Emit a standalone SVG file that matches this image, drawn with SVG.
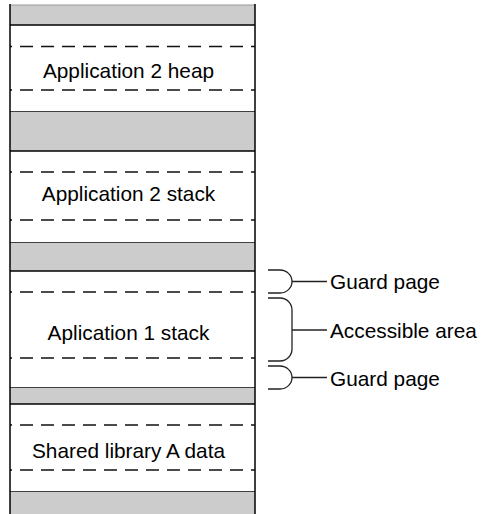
<svg xmlns="http://www.w3.org/2000/svg" width="482" height="514" viewBox="0 0 482 514">
<style>
.gray{fill:#cccccc;stroke:none}
.white{fill:#ffffff;stroke:none}
.border{stroke:#000;stroke-width:1.5;fill:none}
.dash{stroke:#111;stroke-width:1.3;stroke-dasharray:13 8;stroke-dashoffset:11;fill:none}
.lbl{font-family:"Liberation Sans",Arial,sans-serif;font-size:20.8px;fill:#000}
.brace{stroke:#222;stroke-width:1.3;fill:none}
</style>
<rect width="482" height="514" fill="#ffffff"/>
<g id="gap1"><rect class="gray" x="10" y="5" width="245" height="20"/><line x1="10" y1="5" x2="255" y2="5" stroke="#999" stroke-width="1"/></g>
<g id="app2heap">
<rect class="white" x="10" y="25" width="245" height="87"/>
<line class="border" x1="10" y1="25" x2="255" y2="25"/>
<line class="border" x1="10" y1="112" x2="255" y2="112"/>
<line class="dash" x1="10" y1="46.5" x2="255" y2="46.5"/>
<line class="dash" x1="10" y1="90" x2="255" y2="90"/>
<text class="lbl" x="128.5" y="77.5" text-anchor="middle">Application 2 heap</text>
</g>
<g id="gap2"><rect class="gray" x="10" y="112" width="245" height="39"/></g>
<g id="app2stack">
<rect class="white" x="10" y="151" width="245" height="92"/>
<line class="border" x1="10" y1="151" x2="255" y2="151"/>
<line class="border" x1="10" y1="243" x2="255" y2="243"/>
<line class="dash" x1="10" y1="172" x2="255" y2="172"/>
<line class="dash" x1="10" y1="220" x2="255" y2="220"/>
<text class="lbl" x="128.5" y="200.5" text-anchor="middle">Application 2 stack</text>
</g>
<g id="gap3"><rect class="gray" x="10" y="243" width="245" height="28"/></g>
<g id="app1stack">
<rect class="white" x="10" y="271" width="245" height="117"/>
<line class="border" x1="10" y1="271" x2="255" y2="271"/>
<line class="border" x1="10" y1="388" x2="255" y2="388"/>
<line class="dash" x1="10" y1="292" x2="255" y2="292"/>
<line class="dash" x1="10" y1="358" x2="255" y2="358"/>
<text class="lbl" x="128.5" y="339.5" text-anchor="middle">Aplication 1 stack</text>
</g>
<g id="gap4"><rect class="gray" x="10" y="388" width="245" height="16"/></g>
<g id="sharedlib">
<rect class="white" x="10" y="404" width="245" height="88"/>
<line class="border" x1="10" y1="404" x2="255" y2="404"/>
<line class="border" x1="10" y1="492" x2="255" y2="492"/>
<line class="dash" x1="10" y1="425" x2="255" y2="425"/>
<line class="dash" x1="10" y1="470" x2="255" y2="470"/>
<text class="lbl" x="128.5" y="457.5" text-anchor="middle">Shared library A data</text>
</g>
<g id="gap5"><rect class="gray" x="10" y="492" width="245" height="22"/></g>
<g id="column-edges">
<line class="border" x1="10" y1="4" x2="10" y2="514"/>
<line class="border" x1="255" y1="4" x2="255" y2="514"/>
</g>
<g id="connectors">
<path class="brace" d="M268,270 H280 A12,11.5 0 0 1 280,293 H268"/>
<line class="brace" x1="292" y1="281.5" x2="327" y2="281.5"/>
<path class="brace" d="M268,298 H280 A12,12 0 0 1 292,310 V349 A12,12 0 0 1 280,361 H268"/>
<line class="brace" x1="292" y1="330" x2="327" y2="330"/>
<path class="brace" d="M268,366 H280 A12,11.5 0 0 1 280,389 H268"/>
<line class="brace" x1="292" y1="377.5" x2="327" y2="377.5"/>
</g>
<g id="guard1"><text class="lbl" x="330" y="288.5">Guard page</text></g>
<g id="accessible"><text class="lbl" x="330" y="337.5">Accessible area</text></g>
<g id="guard2"><text class="lbl" x="330" y="385.5">Guard page</text></g>
</svg>
